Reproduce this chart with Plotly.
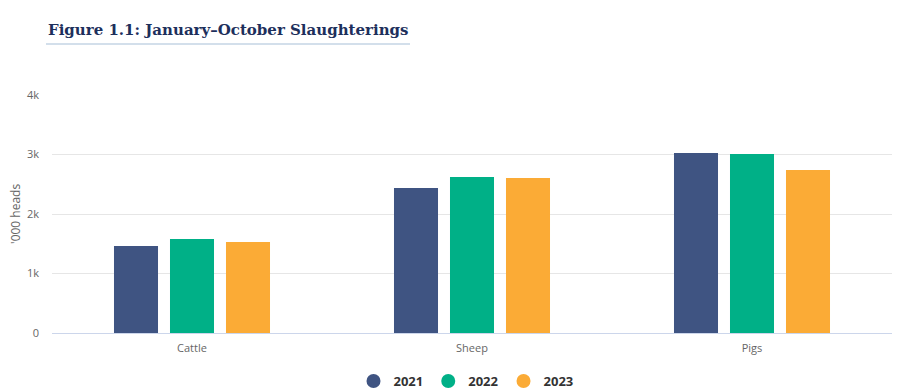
import plotly.graph_objects as go

categories = ["Cattle", "Sheep", "Pigs"]
years = ["2021", "2022", "2023"]
values_2021 = [1462, 2437, 3025]
values_2022 = [1580, 2622, 3008]
values_2023 = [1529, 2605, 2739]
colors = ["#3f5482", "#00b087", "#fbab36"]
ytick_vals = [0, 1000, 2000, 3000, 4000]
ytick_text = ["0", "1k", "2k", "3k", "4k"]

series = [values_2021, values_2022, values_2023]

# page body has an 8px margin; work in window pixels and convert
OFF = 8
W, H = 909 - OFF, 391 - OFF
L, T = 52 - OFF, 95 - OFF
pw, ph = 840, 238
R = W - L - pw
B = H - T - ph

fig = go.Figure()
for yr, vals, col in zip(years, series, colors):
    fig.add_trace(go.Bar(x=categories, y=vals, name=yr, marker_color=col,
                         marker_line_width=0, showlegend=False))
for yr, col in zip(years, colors):
    fig.add_trace(go.Scatter(x=[None], y=[None], mode="markers", name=yr,
                             marker=dict(color=col, size=14, symbol="circle")))

def px_x(x):
    return (x - OFF - L) / pw

def px_y(y):
    return (T + ph - (y - OFF)) / ph

fig.update_layout(
    width=W, height=H,
    margin=dict(l=L, r=R, t=T, b=B, autoexpand=False),
    paper_bgcolor="white", plot_bgcolor="white",
    barmode="group", bargap=0.4, bargroupgap=0.214,
    font=dict(family="Open Sans, sans-serif", color="#666666", size=11),
    xaxis=dict(showgrid=False, showline=True, linecolor="#ccd6eb", linewidth=1,
               automargin=False, ticklabelstandoff=5,
               tickfont=dict(size=11, color="#666666"), ticks="", fixedrange=True),
    yaxis=dict(range=[0, 4000], tickvals=ytick_vals, ticktext=ytick_text,
               showgrid=True, gridcolor="#e6e6e6", gridwidth=1, zeroline=False,
               showline=False, ticklabelstandoff=12, automargin=False,
               tickfont=dict(size=11, color="#666666")),
    legend=dict(orientation="h", x=px_x(466), xanchor="center", y=px_y(381),
                yanchor="middle",
                font=dict(size=13, color="#333333", family="Open Sans, sans-serif", weight="bold"),
                itemsizing="trace", itemwidth=30, traceorder="normal"),
    showlegend=True,
)

fig.add_annotation(x=px_x(46), y=px_y(30), xref="paper", yref="paper",
                   text="<b>Figure 1.1: January\u2013October Slaughterings</b>",
                   showarrow=False, xanchor="left", yanchor="middle",
                   font=dict(family="DejaVu Serif, serif", size=15, color="#1d2f5c"))
fig.add_shape(type="line", xref="paper", yref="paper",
              x0=px_x(46), x1=px_x(410), y0=px_y(44), y1=px_y(44),
              line=dict(color="#c5d5e4", width=1.5))
fig.add_annotation(x=px_x(15), y=px_y(214), xref="paper", yref="paper",
                   text="'000 heads", textangle=-90, showarrow=False,
                   xanchor="center", yanchor="middle",
                   font=dict(size=12, color="#666666"))

fig.write_html("out.html")
